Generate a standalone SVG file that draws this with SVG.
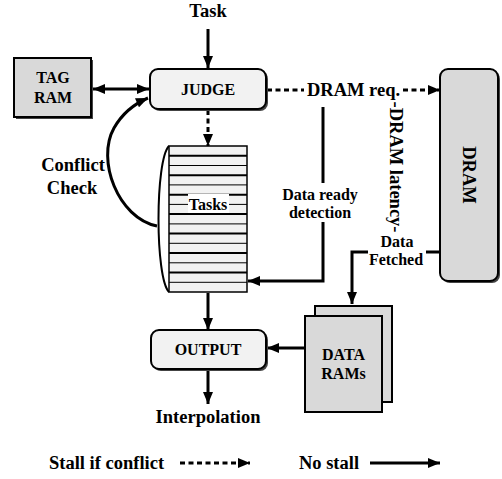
<svg xmlns="http://www.w3.org/2000/svg" width="502" height="479" viewBox="0 0 502 479">
<defs>
<marker id="ah" viewBox="0 0 12 10" refX="12" refY="5" markerWidth="13" markerHeight="10" markerUnits="userSpaceOnUse" orient="auto-start-reverse">
<path d="M0,0 L12,5 L0,10 Z" fill="#000"/>
</marker>
<style>
text{font-family:"Liberation Serif","Times New Roman",serif;font-weight:bold;fill:#000;text-anchor:middle}
.big{font-size:18.5px}
.sm{font-size:16px}
.box{stroke:#000;stroke-width:2}
.light{fill:#f2f2f2}
.gray{fill:#d9d9d9}
.sh{fill:#444}
.solid{fill:none;stroke:#000;stroke-width:3}
.dash{fill:none;stroke:#000;stroke-width:3;stroke-dasharray:5,3.5}
.thin{fill:none;stroke:#000;stroke-width:2}
</style>
</defs>
<rect width="502" height="479" fill="#fff"/>

<g id="connectors">
<path class="solid" d="M208,29 V68" marker-end="url(#ah)"/>
<path class="solid" d="M93,89 H149" marker-start="url(#ah)" marker-end="url(#ah)"/>
<path class="dash" d="M208,110 V146" marker-end="url(#ah)"/>
<path class="dash" d="M267,90 H304"/>
<path class="dash" d="M403,90 H440" marker-end="url(#ah)"/>
<path class="solid" d="M157,226 C118,218 96,160 114,128 C122,114 134,104 148,98" marker-end="url(#ah)"/>
<path class="solid" d="M323,107 V183"/>
<path class="solid" d="M323,222 V281 H248" marker-end="url(#ah)"/>
<path class="solid" d="M440,252 H426"/>
<path class="solid" d="M368,252 H352 V304" marker-end="url(#ah)"/>
<path class="solid" d="M305,348 H267" marker-end="url(#ah)"/>
<path class="solid" d="M208,293 V330" marker-end="url(#ah)"/>
<path class="solid" d="M208,370 V404" marker-end="url(#ah)"/>
<path class="dash" d="M180,463 H250" marker-end="url(#ah)"/>
<path class="solid" d="M370,463 H440" marker-end="url(#ah)"/>
</g>

<g id="task-label"><text class="big" x="208" y="17">Task</text></g>

<g id="tagram">
<rect class="sh" x="16" y="60" width="77" height="59"/>
<rect class="box gray" x="14" y="58" width="77" height="59"/>
<text class="sm" x="53" y="83">TAG</text>
<text class="sm" x="53" y="103">RAM</text>
</g>

<g id="judge">
<rect class="sh" x="152" y="71" width="116" height="40" rx="8"/>
<rect class="box light" x="150" y="69" width="116" height="40" rx="8"/>
<text class="sm" x="208" y="94.5">JUDGE</text>
</g>

<g id="dram">
<rect class="sh" x="442" y="71" width="58" height="212" rx="8"/>
<rect class="box gray" x="440" y="69" width="58" height="212" rx="8"/>
<text class="big" transform="translate(463,175) rotate(90)" x="0" y="0">DRAM</text>
</g>

<g id="dram-req"><text class="big" x="353.5" y="96">DRAM req.</text></g>
<g id="dram-latency"><text class="big" transform="translate(390,167) rotate(90)" x="0" y="0">-DRAM latency-</text></g>
<g id="data-fetched">
<text class="sm" x="397" y="247">Data</text>
<text class="sm" x="396" y="265">Fetched</text>
</g>
<g id="data-ready">
<text class="sm" x="320" y="200">Data ready</text>
<text class="sm" x="320" y="218">detection</text>
</g>
<g id="conflict-check">
<text class="big" x="73" y="171">Conflict</text>
<text class="big" x="72" y="194">Check</text>
</g>

<g id="tasks">
<path class="thin" d="M169,146 C155,160 155,278 169,292"/>
<rect x="169" y="146" width="78" height="146" fill="#f2f2f2" stroke="#000" stroke-width="1.5"/>
<g stroke="#000">
<line x1="169" x2="247" y1="155.7" y2="155.7" stroke-width="2"/>
<line x1="169" x2="247" y1="165.5" y2="165.5" stroke-width="1"/>
<line x1="169" x2="247" y1="175.2" y2="175.2" stroke-width="2"/>
<line x1="169" x2="247" y1="184.9" y2="184.9" stroke-width="1"/>
<line x1="169" x2="247" y1="194.7" y2="194.7" stroke-width="2"/>
<line x1="169" x2="247" y1="204.4" y2="204.4" stroke-width="1"/>
<line x1="169" x2="247" y1="214.1" y2="214.1" stroke-width="2"/>
<line x1="169" x2="247" y1="223.9" y2="223.9" stroke-width="1"/>
<line x1="169" x2="247" y1="233.6" y2="233.6" stroke-width="2"/>
<line x1="169" x2="247" y1="243.3" y2="243.3" stroke-width="1"/>
<line x1="169" x2="247" y1="253.1" y2="253.1" stroke-width="2"/>
<line x1="169" x2="247" y1="262.8" y2="262.8" stroke-width="1"/>
<line x1="169" x2="247" y1="272.5" y2="272.5" stroke-width="2"/>
<line x1="169" x2="247" y1="282.3" y2="282.3" stroke-width="1"/>
</g>
<rect x="188" y="194" width="41" height="19" fill="#fff"/>
<text class="sm" x="208" y="210">Tasks</text>
</g>

<g id="output">
<rect class="sh" x="153" y="332" width="115" height="39" rx="8"/>
<rect class="box light" x="151" y="330" width="115" height="39" rx="8"/>
<text class="sm" x="208" y="355">OUTPUT</text>
</g>

<g id="datarams">
<rect class="box gray" x="315" y="306" width="77" height="96"/>
<rect class="box gray" x="305" y="316" width="77" height="96"/>
<text class="sm" x="343.5" y="360">DATA</text>
<text class="sm" x="343.5" y="379">RAMs</text>
</g>

<g id="interpolation"><text class="big" x="208" y="423">Interpolation</text></g>

<g id="legend">
<text class="big" x="106.5" y="469">Stall if conflict</text>
<text class="big" x="329" y="469">No stall</text>
</g>
</svg>
